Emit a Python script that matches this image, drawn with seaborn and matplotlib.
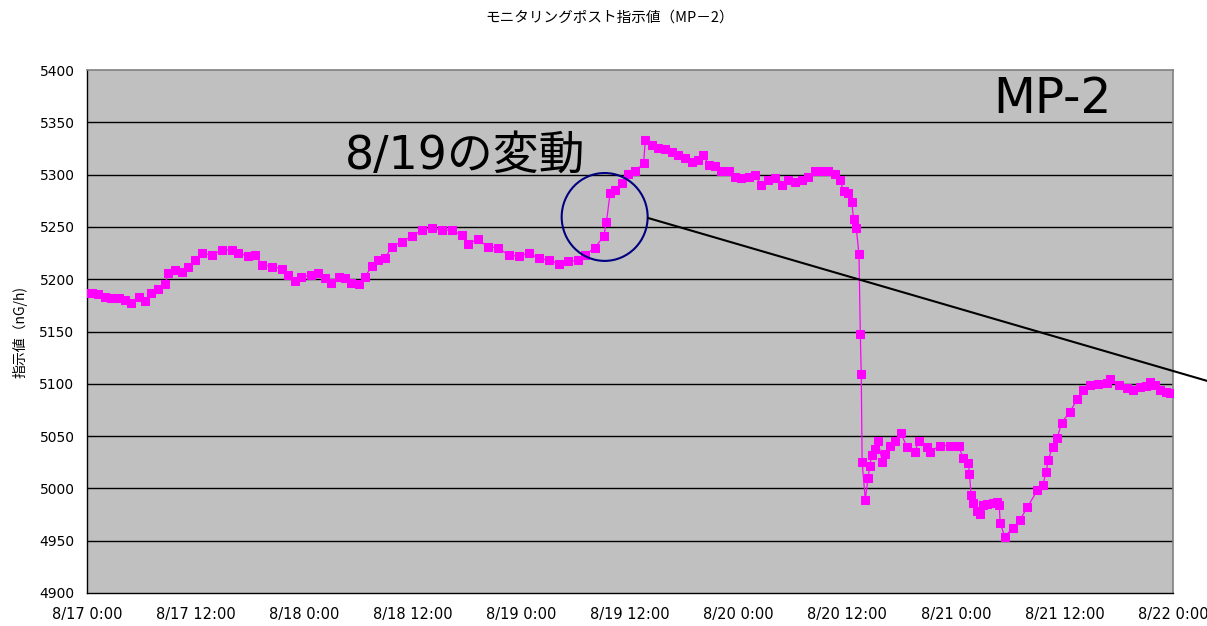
import matplotlib
matplotlib.use("Agg")
import matplotlib.pyplot as plt
from matplotlib.patches import Ellipse
import seaborn as sns

# hours since 8/17 0:00 and readings (nG/h)
hours = [0, 0.5, 1.25, 2.0, 2.7, 3.5, 4.2, 4.9, 5.7, 6.4, 7.1, 7.9, 8.6, 9.0, 9.7,
         10.5, 11.2, 11.9, 12.7, 13.8, 14.9, 16.0, 16.7, 17.8, 18.6, 19.3, 20.4,
         21.5, 22.2, 23.0, 23.7, 24.8, 25.5, 26.3, 27.0, 27.8, 28.5, 29.2, 30.0,
         30.7, 31.5, 32.2, 32.9, 33.7, 34.8, 35.9, 37.0, 38.1, 39.2, 40.3, 41.4,
         42.1, 43.2, 44.3, 45.4, 46.6, 47.7, 48.8, 49.9, 51.0, 52.1, 53.2, 54.3,
         55.0, 56.1, 57.1, 57.4, 57.8, 58.3, 59.1, 59.8, 60.6, 61.5, 61.7, 62.4,
         63.1, 63.9, 64.6, 65.3, 66.1, 66.8, 67.5, 68.1, 68.7, 69.4, 70.1, 70.9,
         71.6, 72.3, 73.1, 73.8, 74.5, 75.3, 76.0, 76.8, 77.5, 78.2, 79.0, 79.7,
         80.4, 81.2, 81.9, 82.6, 83.2, 83.6, 84.1, 84.5, 84.7, 85.0, 85.3, 85.45,
         85.55, 85.65, 86.0, 86.3, 86.5, 86.7, 87.1, 87.4, 87.9, 88.2, 88.7, 89.3,
         89.9, 90.6, 91.5, 91.9, 92.8, 93.1, 94.3, 95.4, 96.3, 96.8, 97.4, 97.5,
         97.7, 97.9, 98.3, 98.7, 99.0, 99.5, 100.1, 100.5, 100.8, 100.9, 101.4,
         102.3, 103.1, 103.9, 105.0, 105.6, 106.0, 106.2, 106.7, 107.2, 107.7,
         108.6, 109.4, 110.1, 110.8, 111.7, 112.7, 113.0, 114.0, 114.9, 115.6,
         116.4, 117.0, 117.5, 118.0, 118.6, 119.2, 119.7, 120.2]
values = [5187, 5187, 5186, 5183, 5182, 5182, 5180, 5177, 5183, 5179, 5187, 5191, 5195, 5206, 5209,
          5207, 5212, 5218, 5225, 5223, 5228, 5228, 5225, 5222, 5223, 5214, 5212,
          5210, 5204, 5198, 5202, 5204, 5206, 5201, 5196, 5202, 5201, 5196, 5195,
          5202, 5213, 5218, 5220, 5231, 5236, 5241, 5247, 5249, 5247, 5247, 5242,
          5234, 5238, 5231, 5230, 5223, 5222, 5225, 5220, 5218, 5215, 5217, 5218,
          5223, 5230, 5241, 5255, 5282, 5285, 5292, 5301, 5303, 5311, 5333, 5328,
          5325, 5324, 5322, 5319, 5316, 5312, 5314, 5319, 5309, 5308, 5303, 5303,
          5298, 5297, 5298, 5300, 5290, 5295, 5297, 5290, 5295, 5293, 5295, 5298,
          5303, 5303, 5303, 5301, 5295, 5284, 5282, 5274, 5258, 5249, 5224, 5148,
          5109, 5025, 4989, 5010, 5021, 5032, 5038, 5045, 5025, 5033, 5041, 5045,
          5053, 5040, 5035, 5045, 5040, 5035, 5041, 5041, 5041, 5029, 5024, 5014,
          4994, 4986, 4978, 4976, 4984, 4985, 4986, 4987, 4984, 4967, 4954,
          4962, 4970, 4982, 4998, 5003, 5016, 5027, 5040, 5048, 5063,
          5073, 5085, 5094, 5099, 5100, 5101, 5105, 5099, 5096, 5094,
          5097, 5098, 5102, 5099, 5094, 5092, 5091, 5091]

xtick_hours = [0, 12, 24, 36, 48, 60, 72, 84, 96, 108, 120]
xtick_labels = ["8/17 0:00", "8/17 12:00", "8/18 0:00", "8/18 12:00", "8/19 0:00",
                "8/19 12:00", "8/20 0:00", "8/20 12:00", "8/21 0:00", "8/21 12:00",
                "8/22 0:00"]
yticks = [4900, 4950, 5000, 5050, 5100, 5150, 5200, 5250, 5300, 5350, 5400]

sns.set_style("white", {"axes.facecolor": "#C0C0C0"})
plt.rcParams["font.family"] = ["Noto Sans CJK JP", "DejaVu Sans"]
plt.rcParams["text.color"] = "black"
plt.rcParams["axes.labelcolor"] = "black"

fig = plt.figure(figsize=(12.07, 6.26), dpi=100)
ax = fig.add_axes([87 / 1207, 1 - 593 / 626, 1086 / 1207, 523 / 626])

sns.lineplot(x=hours, y=values, ax=ax, sort=False, estimator=None,
             color="#FF00FF", linewidth=0.9, marker="s", markersize=6,
             markeredgecolor="#FF00FF", markerfacecolor="#FF00FF", zorder=3)

ax.set_xlim(0, 120)
ax.set_ylim(4900, 5400)
ax.set_xticks(xtick_hours)
ax.set_xticklabels(xtick_labels, fontsize=10.5, fontfamily="DejaVu Sans")
ax.set_yticks(yticks)
ax.set_yticklabels([str(v) for v in yticks], fontsize=10, fontfamily="DejaVu Sans")
ax.tick_params(axis="x", direction="inout", length=10, width=1, pad=5, colors="black")
ax.tick_params(axis="y", direction="out", length=5, width=1, pad=4, colors="black")
for v in yticks[1:-1]:
    ax.axhline(v, color="black", linewidth=1, zorder=1)

for side in ["left", "bottom"]:
    ax.spines[side].set_color("black")
    ax.spines[side].set_linewidth(1)
for side in ["top", "right"]:
    ax.spines[side].set_color("#808080")
    ax.spines[side].set_linewidth(1.2)

ax.set_ylabel("指示値（nG/h)", fontsize=10)
ax.yaxis.set_label_coords(-0.055, 0.5)
fig.text(0.505, 1 - 18 / 626, "モニタリングポスト指示値（MP－2）", ha="center", va="center",
         fontsize=10.5)

# annotations
ax.text(100.1, 5372, "MP-2", fontsize=35, va="center", ha="left",
        fontfamily="DejaVu Sans")
ax.text(28.5, 5318, "8/19の変動", fontsize=33, va="center", ha="left",
        fontfamily=["DejaVu Sans", "Noto Sans CJK JP"])
ax.add_patch(Ellipse((57.2, 5259.5), 9.5, 84, fill=False, edgecolor="#000080",
                     linewidth=1.5, zorder=5))
ax.plot([62.0, 123.8], [5258.5, 5102.7], color="black", linewidth=1.5,
        clip_on=False, zorder=5)

fig.savefig("out.png", dpi=100)
